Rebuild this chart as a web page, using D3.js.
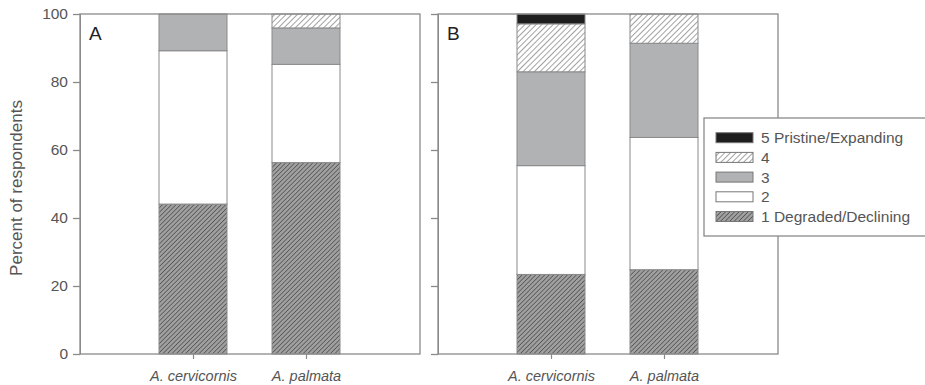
<!DOCTYPE html>
<html><head><meta charset="utf-8">
<script src="https://cdn.jsdelivr.net/npm/d3@7"></script>
<style>body{margin:0;background:#fff}svg{display:block}</style>
</head><body>
<svg id="c" width="925" height="385"></svg>
<script>
const categories = ["A. cervicornis", "A. palmata"];
const levels = ["1 Degraded/Declining", "2", "3", "4", "5 Pristine/Expanding"];
// segment values (percent) for levels 1..5
const panelA_cervicornis = [44.1, 45.1, 10.8, 0, 0];
const panelA_palmata = [56.3, 28.9, 10.7, 4.1, 0];
const panelB_cervicornis = [23.4, 32.0, 27.6, 14.1, 2.9];
const panelB_palmata = [24.8, 38.9, 27.7, 8.6, 0];
const yTicks = [0, 20, 40, 60, 80, 100];
const panelLabels = ["A", "B"];

const FONT = "Arial, 'Liberation Sans', sans-serif";
const svg = d3.select("#c");
const defs = svg.append("defs");
function hatch(id, bg, fg, spacing, w) {
  const p = defs.append("pattern").attr("id", id).attr("patternUnits", "userSpaceOnUse")
    .attr("width", spacing).attr("height", spacing).attr("patternTransform", "rotate(45)");
  p.append("rect").attr("width", spacing).attr("height", spacing).attr("fill", bg);
  p.append("line").attr("x1", 0).attr("y1", 0).attr("x2", 0).attr("y2", spacing)
    .attr("stroke", fg).attr("stroke-width", w);
}
hatch("h1", "#a0a0a0", "#555555", 3.2, 1.6);
hatch("h4", "#ffffff", "#8a8a8a", 4.0, 1.6);
const fills = ["url(#h1)", "#ffffff", "#b1b2b4", "url(#h4)", "#1e1e1e"];
const axisCol = "#8a8a8a";

const y = d3.scaleLinear().domain([0, 100]).range([354, 14]);
const panels = [
  {left: 80, right: 420, data: [panelA_cervicornis, panelA_palmata], label: panelLabels[0]},
  {left: 438, right: 778, data: [panelB_cervicornis, panelB_palmata], label: panelLabels[1]}
];
const barW = 68;

panels.forEach((pn, pi) => {
  const g = svg.append("g");
  const x = d3.scalePoint().domain(categories).range([pn.left + 113, pn.left + 226]);
  pn.data.forEach((vals, ci) => {
    let cum = 0;
    vals.forEach((v, li) => {
      if (v <= 0) return;
      const y0 = cum, y1 = cum + v; cum = y1;
      g.append("rect")
        .attr("x", x(categories[ci]) - barW / 2)
        .attr("y", y(y1))
        .attr("width", barW)
        .attr("height", y(y0) - y(y1))
        .attr("fill", fills[li])
        .attr("stroke", "#8a8a8a").attr("stroke-width", 1);
    });
  });
  g.append("rect").attr("x", pn.left).attr("y", y(100)).attr("width", pn.right - pn.left)
    .attr("height", y(0) - y(100)).attr("fill", "none").attr("stroke", axisCol).attr("stroke-width", 1.3);
  const ya = g.append("g").attr("transform", `translate(${pn.left},0)`)
    .call(d3.axisLeft(y).tickValues(yTicks).tickSize(7).tickSizeOuter(0).tickPadding(5));
  ya.select(".domain").attr("stroke", axisCol);
  ya.selectAll(".tick line").attr("stroke", axisCol).attr("stroke-width", 1.3);
  ya.selectAll(".tick text").attr("fill", "#555").style("font", "15.5px " + FONT)
    .text(d => pi === 0 ? d : "");
  const xa = g.append("g").attr("transform", `translate(0,${y(0)})`)
    .call(d3.axisBottom(x).tickSize(5).tickSizeOuter(0).tickPadding(12));
  xa.select(".domain").remove();
  xa.selectAll(".tick line").attr("stroke", axisCol).attr("stroke-width", 1.2);
  xa.selectAll(".tick text").attr("fill", "#555").style("font", "italic 14.5px " + FONT);
  g.append("text").attr("x", pn.left + 9).attr("y", 40).text(pn.label)
    .attr("fill", "#222").style("font", "19px " + FONT);
});

svg.append("text").attr("transform", "translate(22,188) rotate(-90)").attr("text-anchor", "middle")
  .attr("fill", "#555").style("font", "17px " + FONT).text("Percent of respondents");

const lg = svg.append("g");
lg.append("rect").attr("x", 704).attr("y", 118).attr("width", 230).attr("height", 118)
  .attr("fill", "#fff").attr("stroke", axisCol).attr("stroke-width", 1.3);
const legOrder = [4, 3, 2, 1, 0];
legOrder.forEach((li, i) => {
  const cy = 137.7 + i * 19.7;
  lg.append("rect").attr("x", 716).attr("y", cy - 5).attr("width", 37).attr("height", 10)
    .attr("fill", fills[li]).attr("stroke", "#777").attr("stroke-width", 1);
  lg.append("text").attr("x", 761).attr("y", cy + 5.5).text(levels[li])
    .attr("fill", "#555").style("font", "15.5px " + FONT);
});
</script>
</body></html>
